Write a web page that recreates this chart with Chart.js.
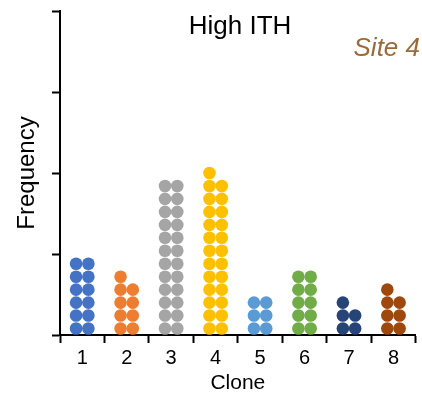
<!DOCTYPE html>
<html>
<head>
<meta charset="utf-8">
<script src="https://cdn.jsdelivr.net/npm/chart.js@4/dist/chart.umd.min.js"></script>
<style>
  html, body { margin: 0; padding: 0; background: #ffffff; }
  #wrap { width: 422px; height: 393px; }
</style>
</head>
<body>
<div id="wrap"><canvas id="c" width="422" height="393"></canvas></div>
<script>
// ---- data ----
const clones = ['1', '2', '3', '4', '5', '6', '7', '8'];
const frequency = [12, 9, 24, 25, 6, 10, 5, 7];   // number of dots per clone
const cloneColors = ['#4472C4', '#ED7D31', '#A5A5A5', '#FFC000', '#5B9BD5', '#70AD47', '#264478', '#9E480E'];
const yTicks = [0, 6.25, 12.5, 18.75, 25];
const titleText = 'High ITH';
const siteText = 'Site 4';
const xTitle = 'Clone';
const yTitle = 'Frequency';

// dots are stacked in two columns (left column filled first)
const colOffset = 0.138;
const datasets = clones.map((c, i) => {
  const n = frequency[i];
  const left = Math.ceil(n / 2), right = Math.floor(n / 2);
  const pts = [];
  for (let r = 0; r < left; r++) pts.push({ x: (i + 1) - colOffset, y: r + 0.5 });
  for (let r = 0; r < right; r++) pts.push({ x: (i + 1) + colOffset, y: r + 0.5 });
  return {
    label: 'Clone ' + c,
    data: pts,
    xAxisID: 'xPos',
    yAxisID: 'y',
    backgroundColor: cloneColors[i],
    borderWidth: 0,
    pointRadius: 6.3,
    pointHoverRadius: 6.3
  };
});

const textPlugin = {
  id: 'texts',
  afterDraw(chart) {
    const ctx = chart.ctx;
    ctx.save();
    ctx.fillStyle = '#000000';
    ctx.font = '26px "Liberation Sans", Arial, sans-serif';
    ctx.textAlign = 'center';
    ctx.textBaseline = 'alphabetic';
    ctx.fillText(titleText, 240, 34);
    ctx.fillStyle = '#9A6A3A';
    ctx.font = 'italic 26px "Liberation Sans", Arial, sans-serif';
    ctx.textAlign = 'right';
    ctx.fillText(siteText, 420, 56);
    ctx.restore();
  }
};

new Chart(document.getElementById('c'), {
  type: 'scatter',
  data: { labels: clones, datasets },
  plugins: [textPlugin],
  options: {
    responsive: false,
    animation: false,
    devicePixelRatio: 1,
    layout: { padding: { top: 11, right: 2, left: 0, bottom: 0 } },
    plugins: { legend: { display: false }, tooltip: { enabled: false }, title: { display: false } },
    scales: {
      x: {
        type: 'category',
        labels: clones,
        position: 'bottom',
        offset: true,
        grid: { offset: true, drawOnChartArea: false, drawTicks: true, tickLength: 8, tickColor: '#000', tickWidth: 2 },
        border: { display: true, color: '#000', width: 2 },
        ticks: { color: '#000', padding: 3, font: { family: '"Liberation Sans", Arial, sans-serif', size: 20 } },
        title: { display: true, text: xTitle, color: '#000', padding: { top: 3, bottom: 0 },
                 font: { family: '"Liberation Sans", Arial, sans-serif', size: 21, lineHeight: 0.9 } },
        afterFit(scale) { scale.height = 58; }
      },
      xPos: {
        type: 'linear',
        axis: 'x',
        display: false,
        min: 0.5,
        max: 8.5
      },
      y: {
        type: 'linear',
        position: 'left',
        min: 0,
        max: 25,
        afterBuildTicks(scale) { scale.ticks = yTicks.map(v => ({ value: v })); },
        grid: { drawOnChartArea: false, drawTicks: true, tickLength: 8, tickColor: '#000', tickWidth: 2 },
        border: { display: true, color: '#000', width: 2 },
        ticks: { display: false },
        title: { display: true, text: yTitle, color: '#000', padding: { top: 13, bottom: 0 },
                 font: { family: '"Liberation Sans", Arial, sans-serif', size: 24, lineHeight: 1.2 } },
        afterFit(scale) { scale.width = 60; }
      }
    }
  }
});
</script>
</body>
</html>
